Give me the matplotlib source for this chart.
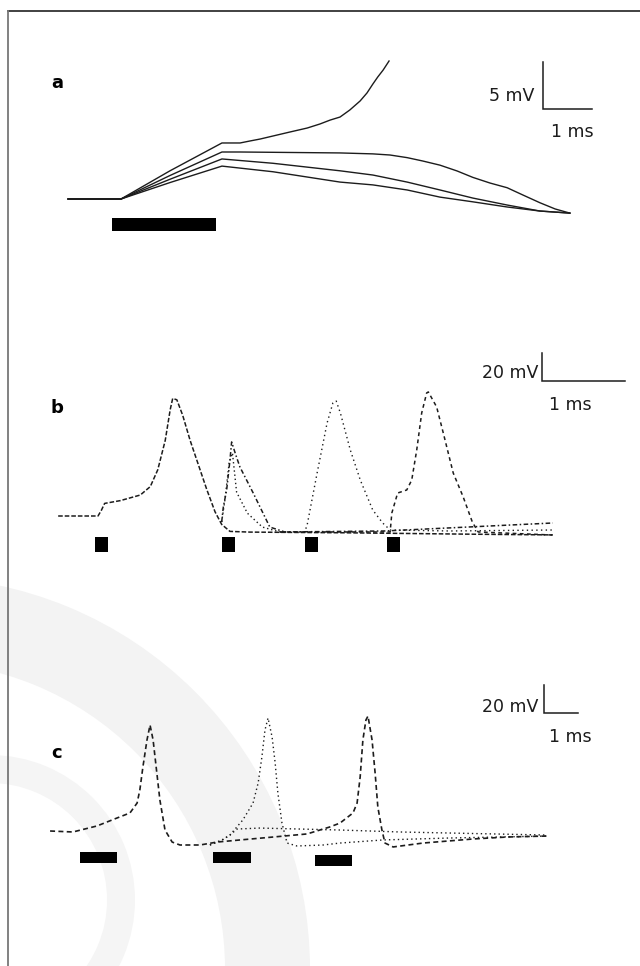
import matplotlib

matplotlib.use("Agg")
import matplotlib.pyplot as plt
from matplotlib.lines import Line2D
from matplotlib.patches import Wedge

# ---- panel a: subthreshold responses (ms, mV) ----
a_trace1_t = [-1.08, 0.0, 1.0, 2.06, 2.43, 2.63, 2.84, 3.10, 3.45, 3.80, 4.06, 4.27, 4.47,
              4.67, 4.88, 5.02, 5.14, 5.24, 5.35, 5.43, 5.47]
a_trace1_v = [0, 0, 3.0, 5.96, 5.96, 6.17, 6.38, 6.70, 7.13, 7.55, 7.98, 8.40, 8.72,
              9.47, 10.43, 11.28, 12.23, 12.98, 13.72, 14.36, 14.68]
a_trace2_t = [-1.08, 0.0, 1.0, 2.06, 2.43, 4.47, 5.14, 5.49, 5.84, 6.16, 6.51, 6.86, 7.18,
              7.53, 7.88, 8.20, 8.55, 8.86, 9.16]
a_trace2_v = [0, 0, 2.5, 5.0, 5.0, 4.9, 4.8, 4.68, 4.4, 4.04, 3.6, 2.98, 2.3,
              1.70, 1.2, 0.43, -0.4, -1.06, -1.5]
a_trace3_t = [-1.08, 0.0, 1.0, 2.06, 3.10, 4.47, 5.14, 5.84, 6.51, 7.18, 7.88, 8.55, 9.16]
a_trace3_v = [0, 0, 2.1, 4.26, 3.8, 3.0, 2.55, 1.8, 0.96, 0.1, -0.64, -1.28, -1.5]
a_trace4_t = [-1.08, 0.0, 1.0, 2.06, 3.10, 4.47, 5.14, 5.84, 6.51, 7.18, 7.88, 8.55, 9.16]
a_trace4_v = [0, 0, 1.75, 3.5, 2.9, 1.8, 1.5, 0.96, 0.2, -0.3, -0.85, -1.28, -1.5]
a_stim_on = [-0.18]
a_stim_dur = [2.12]

# ---- panel b: paired stimulation ----
b_trace1_t = [-0.48, 0.0, 0.04, 0.08, 0.27, 0.51, 0.63, 0.72, 0.81, 0.87, 0.90, 0.95, 1.02,
              1.11, 1.23, 1.31, 1.41, 1.49, 1.59, 1.83, 3.0, 4.5, 5.48]
b_trace1_v = [0, 0, 4, 9, 11, 15, 21, 33, 54, 76, 84, 83, 72,
              54, 33, 19, 3, -6, -11, -11.5, -12, -13, -13.5]
b_trace2_t = [1.49, 1.51, 1.55, 1.59, 1.61, 1.66, 1.71, 1.87, 2.07, 2.25, 3.45, 5.48]
b_trace2_v = [-4.3, 6.4, 18.6, 40, 52.9, 43.6, 35, 16.4, -7.9, -11.4, -10.7, -5.0]
b_trace2b_t = [1.49, 1.53, 1.58, 1.62, 1.67, 1.80, 1.98, 2.19]
b_trace2b_v = [-4.3, 12, 38, 45, 17, 2, -7.9, -11.4]
b_trace3_t = [2.19, 2.49, 2.52, 2.64, 2.76, 2.83, 2.87, 2.92, 3.04, 3.16, 3.31, 3.43, 3.52, 4.24, 5.48]
b_trace3_v = [-11.4, -11.4, -6.4, 30.7, 66.4, 80.7, 82.1, 73.6, 47.1, 25.7, 4.3, -5.0, -10.0, -10.7, -10.0]
b_trace4_t = [2.19, 3.52, 3.54, 3.61, 3.72, 3.78, 3.84, 3.90, 3.96, 3.98, 4.08, 4.16, 4.28,
              4.40, 4.51, 4.58, 5.48]
b_trace4_v = [-11.4, -11.4, 2.1, 16.4, 18.6, 25.7, 47.1, 73.6, 87.9, 88.6, 77.9, 59.3, 30.7,
              13.6, -4.3, -11.4, -13.6]
b_stim_on = [-0.04, 1.49, 2.49, 3.48]
b_stim_dur = [0.157, 0.157, 0.157, 0.157]

# ---- panel c: spikes evoked by current steps ----
c_trace1_t = [-0.88, -0.21, 0.5, 1.09, 1.47, 1.68, 1.76, 1.85, 1.97, 2.06, 2.15, 2.26, 2.35,
              2.5, 2.71, 2.94, 3.53, 4.03, 4.71, 5.68, 6.68, 7.35, 7.65, 8.03, 8.15, 8.24,
              8.32, 8.41, 8.47, 8.59, 8.68, 8.76, 8.88, 8.97, 9.21, 10.09, 11.56, 12.56, 13.74]
c_trace1_v = [0, -0.7, 3.6, 9.3, 12.9, 20, 29.3, 45.7, 65, 75.7, 65, 41.4, 22.1,
              0.7, -7.9, -10, -10, -7.9, -6.4, -4.3, -2.1, 2.9, 5.7, 12.9, 20, 38.6,
              65, 79.3, 82.1, 65, 41.4, 17.1, 0.7, -8.6, -11.4, -8.6, -5.7, -4.3, -3.6]
c_trace2_t = [3.82, 4.18, 4.41, 4.79, 5.09, 5.24, 5.35, 5.44, 5.53, 5.65, 5.74, 5.82, 5.94,
              6.09, 6.38, 7.15, 7.65, 8.91, 10.88, 13.74]
c_trace2_v = [-10, -6.4, -2.9, 7.9, 20, 34.3, 52.9, 72.1, 80.7, 67.1, 48.6, 27.1, 5.7,
              -8.6, -10.7, -10, -8.6, -6.4, -5, -3.6]
c_trace3_t = [3.82, 4.18, 4.41, 4.62, 5.29, 6.47, 7.65, 9.41, 13.74]
c_trace3_v = [-10, -6.4, -2.9, 1.4, 2.1, 1.4, 0.7, -0.7, -2.9]
c_stim_on = [0.0, 3.91, 6.91]
c_stim_dur = [1.09, 1.12, 1.09]
c_stim_low = [-22.9, -22.9, -25.0]

W, H = 640, 966
INK = "#1c1c1c"

fig = plt.figure(figsize=(W / 100, H / 100), dpi=100)
fig.patch.set_facecolor("white")

# background layer in pixel units: faint watermark, frame, text
bg = fig.add_axes([0, 0, 1, 1])
bg.set_xlim(0, W)
bg.set_ylim(H, 0)
bg.axis("off")
bg.add_patch(Wedge((-82, 969), 392, 0, 360, width=85, facecolor="#f3f3f3", edgecolor="none"))
bg.add_patch(Wedge((-10, 900), 145, 0, 360, width=28, facecolor="#f5f5f5", edgecolor="none"))
bg.add_line(Line2D([8, W], [11, 11], color="#333333", lw=1.3))
bg.add_line(Line2D([8, 8], [11, H], color="#777777", lw=1.3))


def panel(x0px, y0px, px_per_ms, px_per_mv):
    # axes covering the figure, mapped so that (0 ms, 0 mV) lands at (x0px, y0px)
    ax = fig.add_axes([0, 0, 1, 1])
    ax.set_xlim(-x0px / px_per_ms, (W - x0px) / px_per_ms)
    ax.set_ylim((y0px - H) / px_per_mv, y0px / px_per_mv)
    ax.patch.set_visible(False)
    ax.axis("off")
    return ax


def scale_bar(ax, t0, v0, dv):
    ax.plot([t0, t0, t0 + 1.0], [v0 + dv, v0, v0], color=INK, lw=1.1,
            solid_joinstyle="miter")


# panel a
ax_a = panel(121, 199, 49, 9.4)
for t, v in [(a_trace1_t, a_trace1_v), (a_trace2_t, a_trace2_v),
             (a_trace3_t, a_trace3_v), (a_trace4_t, a_trace4_v)]:
    ax_a.plot(t, v, color=INK, lw=1.0)
ax_a.bar(a_stim_on, 1.38, width=a_stim_dur, bottom=-3.4, align="edge", color="black")
scale_bar(ax_a, 8.61, 9.57, 5)

# panel b
ax_b = panel(98, 516, 83, 1.4)
ax_b.plot(b_trace1_t, b_trace1_v, color=INK, lw=1.1, ls=(0, (3, 1.3)))
ax_b.plot(b_trace2_t, b_trace2_v, color=INK, lw=1.1, ls=(0, (3, 1.6, 1, 1.6)))
ax_b.plot(b_trace2b_t, b_trace2b_v, color=INK, lw=1.0, ls=(0, (1, 2)))
ax_b.plot(b_trace3_t, b_trace3_v, color=INK, lw=1.0, ls=(0, (1, 2.4)))
ax_b.plot(b_trace4_t, b_trace4_v, color=INK, lw=1.1, ls=(0, (2.5, 2.2)))
ax_b.bar(b_stim_on, 11, width=b_stim_dur, bottom=-26, align="edge", color="black")
scale_bar(ax_b, 5.35, 96.4, 20)

# panel c
ax_c = panel(80, 831, 34, 1.4)
ax_c.plot(c_trace1_t, c_trace1_v, color=INK, lw=1.2, ls=(0, (3, 2)))
ax_c.plot(c_trace2_t, c_trace2_v, color=INK, lw=1.0, ls=(0, (1, 2.2)))
ax_c.plot(c_trace3_t, c_trace3_v, color=INK, lw=1.0, ls=(0, (1, 2.2)))
ax_c.bar(c_stim_on, 7.9, width=c_stim_dur, bottom=c_stim_low, align="edge", color="black")
scale_bar(ax_c, 13.65, 84.3, 20)

# labels
for lab, y in [("a", 83), ("b", 408), ("c", 753)]:
    bg.text(57, y, lab, fontsize=13, fontweight="bold", ha="center", va="center", color="black")
for txt, x, y, ha in [("5 mV", 534, 96, "right"), ("1 ms", 572, 132, "center"),
                      ("20 mV", 538, 373, "right"), ("1 ms", 570, 405, "center"),
                      ("20 mV", 538, 707, "right"), ("1 ms", 570, 737, "center")]:
    bg.text(x, y, txt, fontsize=12.5, ha=ha, va="center", color=INK)

fig.savefig("out.png", dpi=100)
